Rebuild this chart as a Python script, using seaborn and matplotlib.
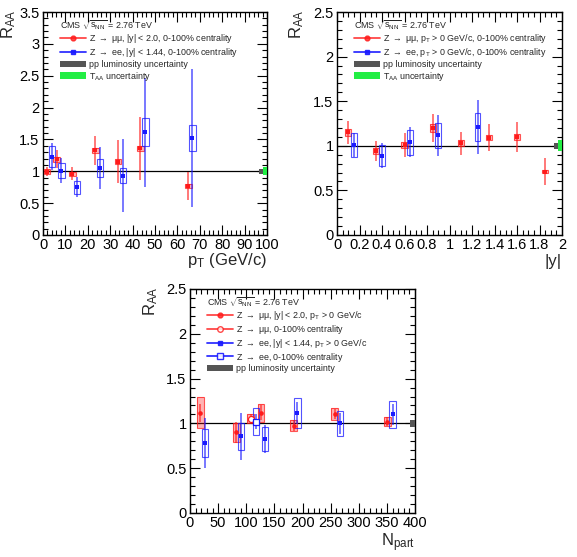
import numpy as np
import pandas as pd
import matplotlib
matplotlib.use("Agg")
import matplotlib.pyplot as plt
from matplotlib.ticker import MultipleLocator, FormatStrFormatter
from matplotlib.lines import Line2D
from matplotlib.patches import Patch
import seaborn as sns

# ---------------- data ----------------
# Panel 1: RAA vs pT
pt_mu = [1.8, 6.1, 13.1, 23.4, 33.5, 43.4, 64.9]
pt_mu_raa = [0.99, 1.19, 0.96, 1.33, 1.15, 1.36, 0.77]
pt_mu_stat = [0.07, 0.14, 0.10, 0.23, 0.34, 0.49, 0.22]
pt_mu_sys = [0.04, 0.04, 0.03, 0.04, 0.04, 0.04, 0.03]

pt_ee = [3.9, 8.2, 15.3, 25.4, 35.6, 45.7, 66.7]
pt_ee_raa = [1.23, 1.01, 0.75, 1.05, 0.93, 1.61, 1.52]
pt_ee_stat = [0.21, 0.20, 0.16, 0.33, 0.57, 0.85, 1.08]
pt_ee_sys = [0.17, 0.12, 0.10, 0.14, 0.12, 0.22, 0.20]

# Panel 2: RAA vs |y|
y_mu = [0.10, 0.35, 0.60, 0.85, 1.10, 1.35, 1.60, 1.85]
y_mu_raa = [1.15, 0.94, 1.01, 1.20, 1.03, 1.09, 1.10, 0.71]
y_mu_stat = [0.13, 0.11, 0.13, 0.16, 0.13, 0.15, 0.17, 0.15]
y_mu_sys = [0.04, 0.03, 0.03, 0.04, 0.03, 0.03, 0.03, 0.02]

y_ee = [0.15, 0.40, 0.65, 0.90, 1.25]
y_ee_raa = [1.01, 0.89, 1.04, 1.12, 1.21]
y_ee_stat = [0.13, 0.14, 0.17, 0.23, 0.30]
y_ee_sys = [0.13, 0.12, 0.14, 0.14, 0.16]

# Panel 3: RAA vs Npart
np_mu = [18, 82, 126, 184, 257, 351]
np_mu_raa = [1.12, 0.90, 1.12, 0.975, 1.105, 1.02]
np_mu_stat = [0.10, 0.12, 0.08, 0.06, 0.06, 0.05]
np_mu_sys = [0.17, 0.11, 0.10, 0.065, 0.065, 0.05]

np_mu_mb = [108]
np_mu_mb_raa = [1.05]
np_mu_mb_stat = [0.05]
np_mu_mb_sys = [0.05]

np_ee = [26, 90, 133, 191, 266, 360]
np_ee_raa = [0.78, 0.855, 0.825, 1.115, 1.00, 1.10]
np_ee_stat = [0.28, 0.26, 0.16, 0.12, 0.12, 0.12]
np_ee_sys = [0.16, 0.15, 0.13, 0.165, 0.14, 0.15]

np_ee_mb = [117]
np_ee_mb_raa = [1.02]
np_ee_mb_stat = [0.08]
np_ee_mb_sys = [0.15]

lumi_unc = 0.035
taa_unc = 0.062

RED = "#ff1a1a"
BLUE = "#1a1aff"
GRAY = "#555555"
GREEN = "#22ee44"

sns.set_theme(style="ticks")
plt.rcParams["font.family"] = ["Liberation Sans", "DejaVu Sans"]
plt.rcParams["mathtext.fontset"] = "custom"
plt.rcParams["mathtext.rm"] = "Liberation Sans"
plt.rcParams["mathtext.it"] = "Liberation Sans"
plt.rcParams["mathtext.sf"] = "Liberation Sans"

fig = plt.figure(figsize=(5.77, 5.57), dpi=100)
W, H = 577.0, 557.0


def mk_ax(l, t, r, b):
    return fig.add_axes([l / W, 1 - b / H, (r - l) / W, (b - t) / H])


ax1 = mk_ax(43, 12, 267, 235)
ax2 = mk_ax(337, 12, 562, 235)
ax3 = mk_ax(190, 289, 415, 513)


def draw_series(ax, x, y, stat, sys, color, width, marker="s", filled=True,
                box_fill=True, ms=11):
    df = pd.DataFrame({"x": x, "y": y, "stat": stat, "sys": sys})
    # systematic boxes
    if box_fill:
        ax.bar(df["x"], 2 * df["sys"], bottom=df["y"] - df["sys"], width=width,
               facecolor=color, alpha=0.33, edgecolor="none", zorder=2)
    ax.bar(df["x"], 2 * df["sys"], bottom=df["y"] - df["sys"], width=width,
           facecolor="none", edgecolor=color, linewidth=0.8, alpha=0.75, zorder=3)
    # stat error bars
    ax.errorbar(df["x"], df["y"], yerr=df["stat"], fmt="none", ecolor=color,
                elinewidth=1.1, alpha=0.75, capsize=0, zorder=4)
    # markers
    if filled:
        sns.scatterplot(data=df, x="x", y="y", marker=marker, color=color,
                        s=ms, linewidth=0, ax=ax, zorder=5, legend=False)
    else:
        sns.scatterplot(data=df, x="x", y="y", marker=marker, facecolor="white",
                        edgecolor=color, s=ms + 8, linewidth=0.9, ax=ax, zorder=5,
                        legend=False)


def norm_boxes(ax, xs, widths, uncs, colors):
    for x0, w, u, c in zip(xs, widths, uncs, colors):
        ax.bar([x0], [2 * u], bottom=[1 - u], width=w, align="edge",
               color=c, edgecolor="none", zorder=3)


def style_ax(ax, xmax, ymax, xmaj, xmin, xlabel, xlab_y, ylab_x):
    ax.set_xlim(0, xmax)
    ax.set_ylim(0, ymax)
    ax.xaxis.set_major_locator(MultipleLocator(xmaj))
    ax.xaxis.set_minor_locator(MultipleLocator(xmin))
    ax.yaxis.set_major_locator(MultipleLocator(0.5))
    ax.yaxis.set_minor_locator(MultipleLocator(0.1))
    ax.xaxis.set_major_formatter(FormatStrFormatter("%g"))
    ax.yaxis.set_major_formatter(FormatStrFormatter("%g"))
    ax.tick_params(which="both", direction="in", top=True, right=True,
                   width=0.8, colors="black", labelsize=10.5)
    ax.tick_params(which="major", length=7, pad=2.5)
    ax.tick_params(which="minor", length=3.5)
    for s in ax.spines.values():
        s.set_linewidth(1.0)
        s.set_color("black")
    ax.axhline(1.0, color="black", lw=0.9, zorder=1)
    ax.set_xlabel(xlabel, loc="right", fontsize=12)
    ax.xaxis.set_label_coords(1.0, xlab_y)
    ax.set_ylabel(r"R$_{\mathregular{AA}}$", loc="top", fontsize=12)
    ax.yaxis.set_label_coords(ylab_x, 1.01)


title = r"CMS $\sqrt{\mathregular{s}_{\mathregular{NN}}}$ = 2.76 TeV"


def add_legend(ax, handles, labels):
    leg = ax.legend(handles, labels, title=title, loc="upper left",
                    bbox_to_anchor=(0.05, 1.0), frameon=False, fontsize=6.4,
                    title_fontsize=6.4, handlelength=2.9, handleheight=0.75,
                    handletextpad=0.35, labelspacing=0.08, borderpad=0.2,
                    alignment="left")
    return leg


# ---------- Panel 1 ----------
draw_series(ax1, pt_mu, pt_mu_raa, pt_mu_stat, pt_mu_sys, RED, 3.0)
draw_series(ax1, pt_ee, pt_ee_raa, pt_ee_stat, pt_ee_sys, BLUE, 2.8, box_fill=False)
norm_boxes(ax1, [96.4, 98.2], [1.8, 1.8], [lumi_unc, taa_unc], [GRAY, GREEN])
style_ax(ax1, 100, 3.5, 10, 2, r"p$_{\mathregular{T}}$ (GeV/c)", -0.072, -0.11)

h_mu = Line2D([0], [0], color=RED, lw=1.3, alpha=0.8, marker="o", ms=3.5,
              markerfacecolor=RED, markeredgecolor=RED)
h_ee = Line2D([0], [0], color=BLUE, lw=1.3, alpha=0.9, marker="s", ms=3.5,
              markerfacecolor=BLUE, markeredgecolor=BLUE)
h_lumi = Patch(facecolor=GRAY, edgecolor="none")
h_taa = Patch(facecolor=GREEN, edgecolor="none")
add_legend(ax1, [h_mu, h_ee, h_lumi, h_taa],
           [r"Z $\rightarrow$ $\mu\mu$, |y| < 2.0, 0-100% centrality",
            r"Z $\rightarrow$ ee, |y| < 1.44, 0-100% centrality",
            "pp luminosity uncertainty",
            r"T$_{\mathregular{AA}}$ uncertainty"])

# ---------- Panel 2 ----------
draw_series(ax2, y_mu, y_mu_raa, y_mu_stat, y_mu_sys, RED, 0.055)
draw_series(ax2, y_ee, y_ee_raa, y_ee_stat, y_ee_sys, BLUE, 0.05, box_fill=False)
norm_boxes(ax2, [1.925, 1.962], [0.037, 0.038], [lumi_unc, taa_unc], [GRAY, GREEN])
style_ax(ax2, 2, 2.5, 0.2, 0.05, "|y|", -0.085, -0.14)
add_legend(ax2, [h_mu, h_ee, h_lumi, h_taa],
           [r"Z $\rightarrow$ $\mu\mu$, p$_{\mathregular{T}}$ > 0 GeV/c, 0-100% centrality",
            r"Z $\rightarrow$ ee, p$_{\mathregular{T}}$ > 0 GeV/c, 0-100% centrality",
            "pp luminosity uncertainty",
            r"T$_{\mathregular{AA}}$ uncertainty"])

# ---------- Panel 3 ----------
draw_series(ax3, np_mu, np_mu_raa, np_mu_stat, np_mu_sys, RED, 12, marker="o")
draw_series(ax3, np_mu_mb, np_mu_mb_raa, np_mu_mb_stat, np_mu_mb_sys, RED, 12,
            marker="o", filled=False)
draw_series(ax3, np_ee, np_ee_raa, np_ee_stat, np_ee_sys, BLUE, 11, box_fill=False)
draw_series(ax3, np_ee_mb, np_ee_mb_raa, np_ee_mb_stat, np_ee_mb_sys, BLUE, 11,
            filled=False, box_fill=False)
norm_boxes(ax3, [392], [8], [lumi_unc], [GRAY])
style_ax(ax3, 400, 2.5, 50, 10, r"N$_{\mathregular{part}}$", -0.08, -0.135)

h_mu_o = Line2D([0], [0], color=RED, lw=1.3, alpha=0.8, marker="o", ms=4,
                markerfacecolor="white", markeredgecolor=RED)
h_ee_o = Line2D([0], [0], color=BLUE, lw=1.3, alpha=0.9, marker="s", ms=4,
                markerfacecolor="white", markeredgecolor=BLUE)
add_legend(ax3, [h_mu, h_mu_o, h_ee, h_ee_o, h_lumi],
           [r"Z $\rightarrow$ $\mu\mu$, |y| < 2.0, p$_{\mathregular{T}}$ > 0 GeV/c",
            r"Z $\rightarrow$ $\mu\mu$, 0-100% centrality",
            r"Z $\rightarrow$ ee, |y| < 1.44, p$_{\mathregular{T}}$ > 0 GeV/c",
            r"Z $\rightarrow$ ee, 0-100% centrality",
            "pp luminosity uncertainty"])

fig.savefig("out.png", dpi=100)
